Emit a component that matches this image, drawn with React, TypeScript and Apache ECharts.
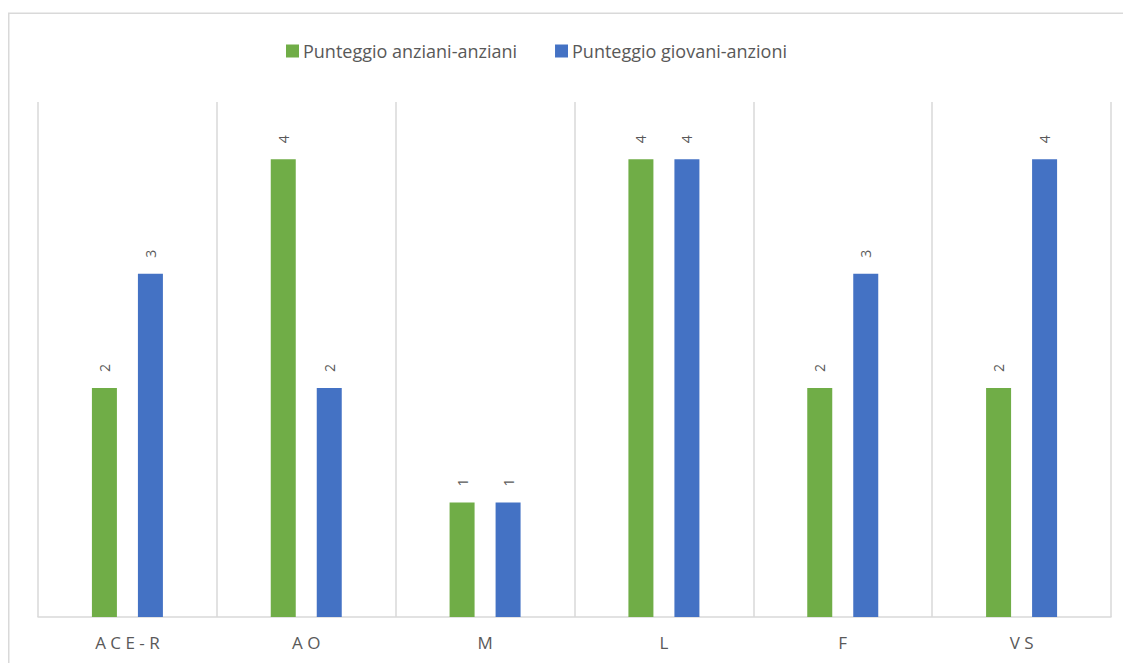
import React, { useEffect, useRef } from "react";
import * as echarts from "echarts";

const categories = ["ACE-R", "AO", "M", "L", "F", "VS"];
const anzianiAnziani = [2, 4, 1, 4, 2, 2];
const giovaniAnzioni = [3, 2, 1, 4, 3, 4];
const seriesNames = ["Punteggio anziani-anziani", "Punteggio giovani-anzioni"];

const GREEN = "#70ad47";
const BLUE = "#4472c4";
const TEXT = "#595959";
const GRID = "#d9d9d9";
const FONT = "'Open Sans', 'Noto Sans', sans-serif";

export default function App() {
  const ref = useRef<HTMLDivElement>(null);
  useEffect(() => {
    if (!ref.current) return;
    const chart = echarts.init(ref.current, undefined, { renderer: "svg" });
    const label = {
      show: true,
      position: "top",
      rotate: 90,
      align: "left",
      verticalAlign: "middle",
      distance: 16,
      color: TEXT,
      fontSize: 14,
      fontFamily: FONT,
    };
    chart.setOption({
      animation: false,
      backgroundColor: "#ffffff",
      graphic: [
        {
          type: "rect",
          shape: { x: 0.75, y: 5.25, width: 1140, height: 680 },
          style: { fill: "none", stroke: GRID, lineWidth: 1.5 },
          silent: true,
        },
      ],
      legend: {
        left: 273,
        top: 29,
        itemWidth: 13,
        itemHeight: 13,
        itemGap: 38,
        icon: "rect",
        textStyle: { color: TEXT, fontSize: 18, fontFamily: FONT, padding: [0, 0, 0, -1] },
        data: seriesNames,
      },
      grid: { left: 30, right: 28, top: 94, bottom: 54, containLabel: false },
      xAxis: {
        type: "category",
        data: categories,
        axisLine: { show: true, lineStyle: { color: GRID, width: 1.5 } },
        axisTick: { show: false },
        splitLine: { show: true, lineStyle: { color: GRID, width: 1.5 } },
        axisLabel: {
          color: TEXT,
          fontSize: 17,
          fontFamily: FONT,
          margin: 17,
          formatter: (v: string) => v.split("").join(" "),
        },
      },
      yAxis: {
        type: "value",
        min: 0,
        max: 4.5,
        show: false,
        splitLine: { show: false },
      },
      series: [
        {
          name: seriesNames[0],
          type: "bar",
          data: anzianiAnziani,
          barWidth: 25,
          barGap: "84%",
          itemStyle: { color: GREEN },
          label,
        },
        {
          name: seriesNames[1],
          type: "bar",
          data: giovaniAnzioni,
          barWidth: 25,
          barGap: "84%",
          itemStyle: { color: BLUE },
          label,
        },
      ],
    });
    return () => chart.dispose();
  }, []);
  return <div ref={ref} style={{ width: 1131, height: 663 }} />;
}
